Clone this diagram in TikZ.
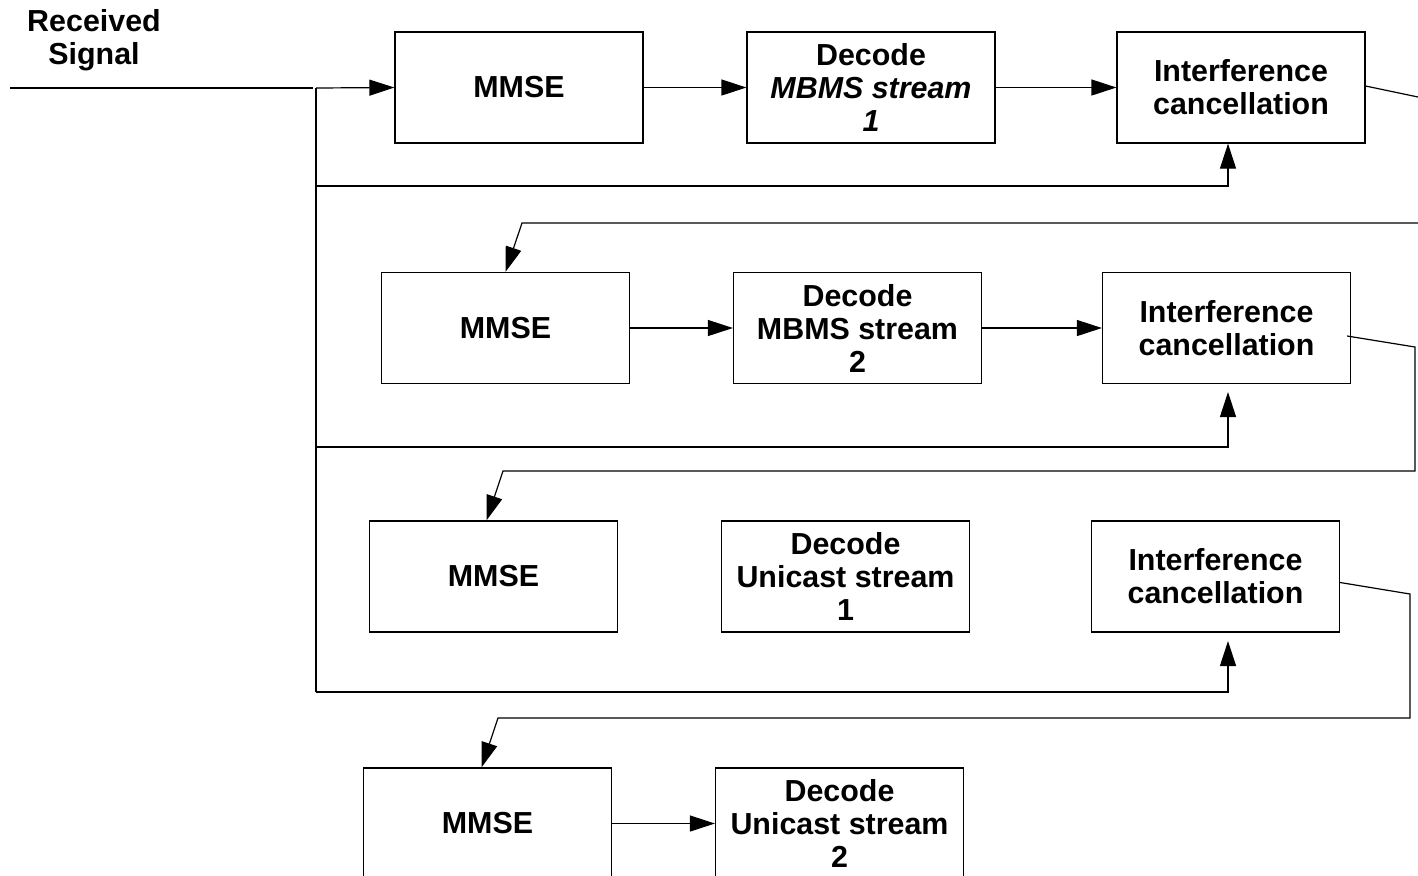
\documentclass[tikz,border=0pt]{standalone}
\usepackage{fontspec}
\setmainfont{Liberation Sans}
\usetikzlibrary{arrows.meta,calc}
\tikzset{
  blk/.style={draw, line width=0.6pt, minimum width=124pt, minimum height=55.5pt, inner sep=0pt, align=center, font=\bfseries\fontsize{15.2}{16.5}\selectfont},
  lbl/.style={align=center, inner sep=0pt, font=\bfseries\fontsize{15.2}{16.5}\selectfont},
  ln/.style={line width=0.6pt},
  arr/.style={line width=0.6pt, -{Triangle[length=12.5pt,width=8pt]}}
}
\begin{document}
\begin{tikzpicture}[x=0.5pt,y=-0.5pt]
\clip (0,0) rectangle (1418,875);
\fill[white] (0,0) rectangle (1418,875);
% label
\node[lbl] (rs) at (94,40.5) {Received\\Signal};
% boxes
\node[blk] (m1) at (519,87.5) {MMSE};
\node[blk] (d1) at (871,87.5) {Decode\\\itshape MBMS stream\\\itshape 1};
\node[blk] (i1) at (1241,87.5) {Interference\\cancellation};
\node[blk] (m2) at (505.5,328) {MMSE};
\node[blk] (d2) at (857.5,328) {Decode\\MBMS stream\\2};
\node[blk] (i2) at (1226.5,328) {Interference\\cancellation};
\node[blk] (m3) at (493.5,576.5) {MMSE};
\node[blk] (d3) at (845.5,576.5) {Decode\\Unicast stream\\1};
\node[blk] (i3) at (1215.5,576.5) {Interference\\cancellation};
\node[blk] (m4) at (487.5,823.5) {MMSE};
\node[blk] (d4) at (839.5,823.5) {Decode\\Unicast stream\\2};
% input and bus
\coordinate (inA) at (10,88);
\coordinate (inB) at (313,88);
\coordinate (busT) at (316,88);
\coordinate (b1) at (316,186);
\coordinate (b2) at (316,447);
\coordinate (busB) at (316,692);
\draw[ln] (inA) -- (inB);
\draw[ln] (busT) -- (busB);
\draw[arr] (busT) -- (m1.west);
% forward arrows
\draw[arr] (m1.east) -- (d1.west);
\draw[arr] (d1.east) -- (i1.west);
\draw[arr] (m2.east) -- (d2.west);
\draw[arr] (d2.east) -- (i2.west);
\draw[arr] (m4.east) -- (d4.west);
% feedback from bus to IC
\coordinate (c1) at (1228,186);
\coordinate (c2) at (1228,447);
\coordinate (c3) at (1228,692);
\coordinate (e2) at (1228,392);
\coordinate (e3) at (1228,641);
\draw[arr] (b1) -- (c1) -- (c1 |- i1.south);
\draw[arr] (b2) -- (c2) -- (e2);
\draw[arr] (busB) -- (c3) -- (e3);
% IC outputs to next row
\coordinate (o1) at (1418,97);
\draw[ln] ($(i1.east)+(0,-1.5)$) -- (o1);
\coordinate (r1) at (1418,223);
\coordinate (k1) at (522,223);
\draw[arr] (r1) -- (k1) -- (m2.north);
\coordinate (o2) at (1415,347);
\coordinate (p2) at (1415,471);
\coordinate (k2) at (503,471);
\draw[arr] ($(i2.east)+(-4,8)$) -- (o2) -- (p2) -- (k2) -- ($(m3.north)+(-7,0)$);
\coordinate (o3) at (1410,594);
\coordinate (p3) at (1410,718);
\coordinate (k3) at (498,718);
\draw[arr] ($(i3.east)+(0,6)$) -- (o3) -- (p3) -- (k3) -- ($(m4.north)+(-6,0)$);
\end{tikzpicture}
\end{document}
